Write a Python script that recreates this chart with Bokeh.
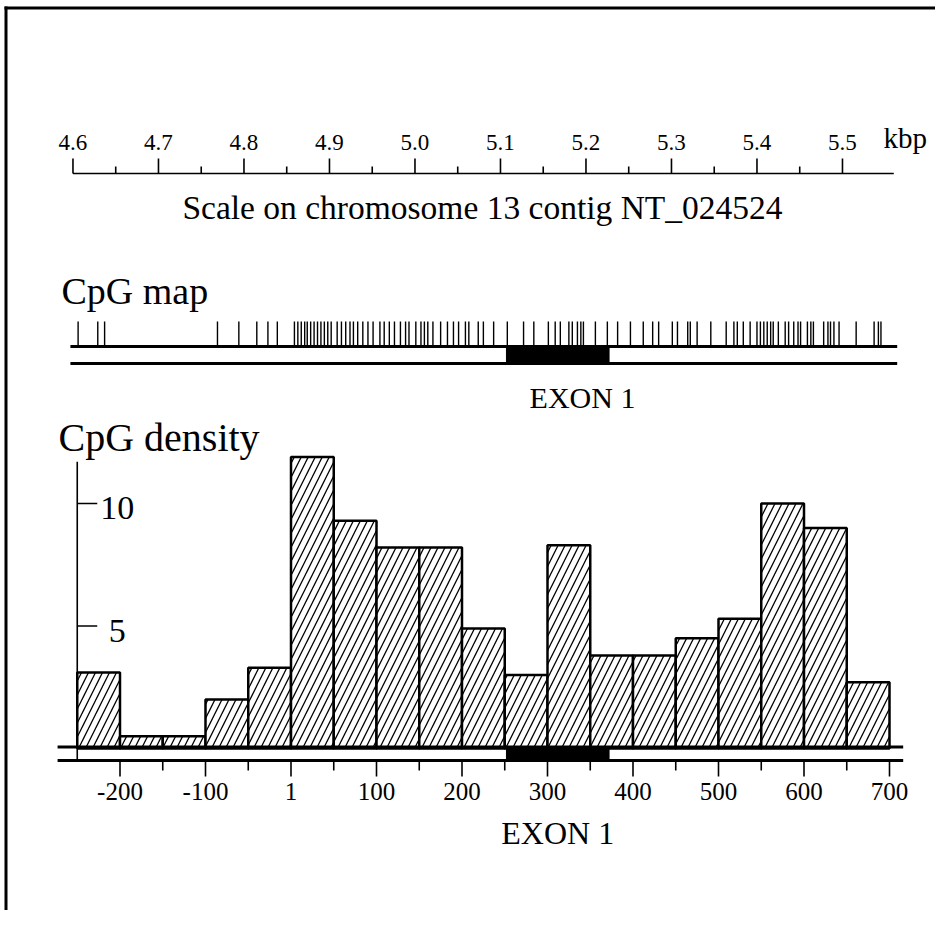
from bokeh.plotting import figure
from bokeh.models import Range1d
from bokeh.core.properties import value
from bokeh.embed import file_html
from bokeh.resources import INLINE

# ---------------- data ----------------
# top scale (kbp on chromosome 13 contig NT_024524)
kbp_major = [4.6, 4.7, 4.8, 4.9, 5.0, 5.1, 5.2, 5.3, 5.4, 5.5]
kbp_major_labels = ["4.6", "4.7", "4.8", "4.9", "5.0", "5.1", "5.2", "5.3", "5.4", "5.5"]
kbp_minor = [4.65, 4.75, 4.85, 4.95, 5.05, 5.15, 5.25, 5.35, 5.45]
kbp_scale_start = 4.6
kbp_scale_end = 5.56
contig_offset_bp = 4855          # contig position (bp) of position "1"

# CpG map (positions in bp relative to "1")
cpg_sites = [-249, -226, -218,
             -86, -61, -40, -27, -16,
             4, 8, 12, 16, 19, 23, 27, 31, 35, 39, 43, 47,
             54, 59, 64, 69, 73, 78, 84, 90, 96,
             104, 109, 115, 121, 128, 134, 138, 146,
             152, 156, 160, 166, 175, 183, 190, 196,
             204, 208, 219, 225, 237,
             253, 272, 284,
             301, 309, 315, 325, 329, 335, 339, 342,
             356, 370, 382, 397,
             412, 423, 430, 446,
             452, 464, 467, 475, 491,
             509, 518, 522, 529, 537, 545, 549,
             553, 557, 561, 564, 570, 578, 582, 588, 593, 596,
             604, 608, 611, 623, 628, 631, 635, 641,
             661, 682, 687, 690]
map_start, map_end = -258, 709
exon_start, exon_end = 252, 372

# CpG density histogram (50 bp windows)
bin_starts = [-250, -200, -150, -100, -50, 0, 50, 100, 150, 200,
              250, 300, 350, 400, 450, 500, 550, 600, 650]
bin_width = 50
cpg_density = [3.1, 0.5, 0.5, 2.0, 3.3, 11.9, 9.3, 8.2, 8.2, 4.9,
               3.0, 8.3, 3.8, 3.8, 4.5, 5.3, 10.0, 9.0, 2.7]
track_start, track_end = -273, 716

x_major = [-200, -100, 0, 100, 200, 300, 400, 500, 600, 700]
x_major_labels = ["-200", "-100", "1", "100", "200", "300", "400", "500", "600", "700"]
x_minor = [-150, -50, 50, 150, 250, 350, 450, 550, 650]
y_major = [10, 5]
y_major_labels = ["10", "5"]
y_axis_top = 11.7

# ---------------- layout ----------------
W, H = 935, 910
X0, PXBP = 290.5, 0.855      # canvas px of bp 0, px per bp
Y0, PXU = 748.0, 24.5        # canvas px of density 0, px per density unit
FONT = value("Liberation Serif")
BASE_FIX = 0.3               # rendered baseline sits ~0.3 em below the requested y


def tb(y, fs):
    """requested baseline y (px) corrected for the renderer's offset"""
    return y - BASE_FIX * fs


bp_lo, bp_hi = -X0 / PXBP, (W - X0) / PXBP
p = figure(width=W, height=H, output_backend="svg", toolbar_location=None,
           x_range=Range1d(0, W), y_range=Range1d(H, 0),
           x_axis_type=None, y_axis_type=None, min_border=0,
           outline_line_color=None, background_fill_color="white")
p.grid.visible = False
p.extra_x_ranges = {
    "bp": Range1d(bp_lo, bp_hi),
    "kbp": Range1d((bp_lo + contig_offset_bp) / 1000.0, (bp_hi + contig_offset_bp) / 1000.0),
}
p.extra_y_ranges = {"density": Range1d(-(H - Y0) / PXU, Y0 / PXU)}

K = "black"


def label(x, y, txt, fs, align="left", **kw):
    p.text(x=x, y=[tb(v, fs) for v in y], text=txt, text_font=FONT,
           text_font_size=f"{fs}px", text_align=align, text_baseline="alphabetic",
           text_color=K, **kw)


# outer frame of the figure
p.segment(x0=[5.5, 4], y0=[6, 7.5], x1=[5.5, W], y1=[H, 7.5], line_color=K, line_width=3)

# ---- top kbp scale ----
scale_y = 173
p.segment(x0=[kbp_scale_start], x1=[kbp_scale_end], y0=[scale_y], y1=[scale_y],
          x_range_name="kbp", line_color=K, line_width=1.6)
p.segment(x0=kbp_major, x1=kbp_major, y0=[scale_y] * len(kbp_major),
          y1=[scale_y - 15] * len(kbp_major), x_range_name="kbp", line_color=K, line_width=1.6)
p.segment(x0=kbp_minor, x1=kbp_minor, y0=[scale_y] * len(kbp_minor),
          y1=[scale_y - 7] * len(kbp_minor), x_range_name="kbp", line_color=K, line_width=1.6)
label(kbp_major, [149] * len(kbp_major), kbp_major_labels, 23, "center", x_range_name="kbp")
label([883], [146], ["kbp"], 29)
label([482], [217], ["Scale on chromosome 13 contig NT_024524"], 33.5, "center")

# ---- CpG map ----
label([61], [302], ["CpG map"], 38)
map_y1, map_y2, tick_top = 346, 363, 321
p.segment(x0=cpg_sites, x1=cpg_sites, y0=[tick_top] * len(cpg_sites),
          y1=[map_y1] * len(cpg_sites), x_range_name="bp", line_color=K, line_width=1.4)
p.quad(left=[exon_start], right=[exon_end], top=[map_y1], bottom=[map_y2],
       x_range_name="bp", fill_color=K, line_color=K)
p.segment(x0=[map_start, map_start], x1=[map_end, map_end], y0=[map_y1, map_y2],
          y1=[map_y1, map_y2], x_range_name="bp", line_color=K, line_width=3)
label([582], [406], ["EXON 1"], 30, "center")

# ---- CpG density ----
label([58], [449], ["CpG density"], 40)
p.quad(left=bin_starts, right=[b + bin_width for b in bin_starts],
       bottom=[0] * len(bin_starts), top=cpg_density,
       x_range_name="bp", y_range_name="density",
       fill_color="white", line_color=K, line_width=2.5,
       hatch_pattern="/", hatch_color=K, hatch_scale=14, hatch_weight=1.3)

base_y1, base_y2 = 746.5, 760
p.quad(left=[exon_start], right=[exon_end], top=[base_y1], bottom=[base_y2],
       x_range_name="bp", fill_color=K, line_color=K)
p.segment(x0=[track_start, track_start], x1=[track_end, track_end], y0=[base_y1, base_y2],
          y1=[base_y1, base_y2], x_range_name="bp", line_color=K, line_width=3)

# y axis (density)
axis_x = bin_starts[0]
axis_bottom = (Y0 - base_y2) / PXU
p.segment(x0=[axis_x], x1=[axis_x], y0=[axis_bottom], y1=[y_axis_top],
          x_range_name="bp", y_range_name="density", line_color=K, line_width=1.6)
p.segment(x0=[axis_x] * len(y_major), x1=[axis_x + 20 / PXBP] * len(y_major),
          y0=y_major, y1=y_major, x_range_name="bp", y_range_name="density",
          line_color=K, line_width=1.6)
ytl_fs = 34
p.text(x=[axis_x + 40 / PXBP] * len(y_major),
       y=[v - (15 - BASE_FIX * ytl_fs) / PXU for v in y_major],
       text=y_major_labels, x_range_name="bp", y_range_name="density",
       text_font=FONT, text_font_size=f"{ytl_fs}px", text_align="center",
       text_baseline="alphabetic", text_color=K)

# x axis (bp)
p.segment(x0=x_major, x1=x_major, y0=[base_y2] * len(x_major), y1=[base_y2 + 16] * len(x_major),
          x_range_name="bp", line_color=K, line_width=1.6)
p.segment(x0=x_minor, x1=x_minor, y0=[base_y2] * len(x_minor), y1=[base_y2 + 10] * len(x_minor),
          x_range_name="bp", line_color=K, line_width=1.6)
label(x_major, [798] * len(x_major), x_major_labels, 25, "center", x_range_name="bp")
label([(exon_start + exon_end) / 2.0], [842], ["EXON 1"], 32, "center", x_range_name="bp")

open("out.html", "w").write(file_html(p, INLINE))
